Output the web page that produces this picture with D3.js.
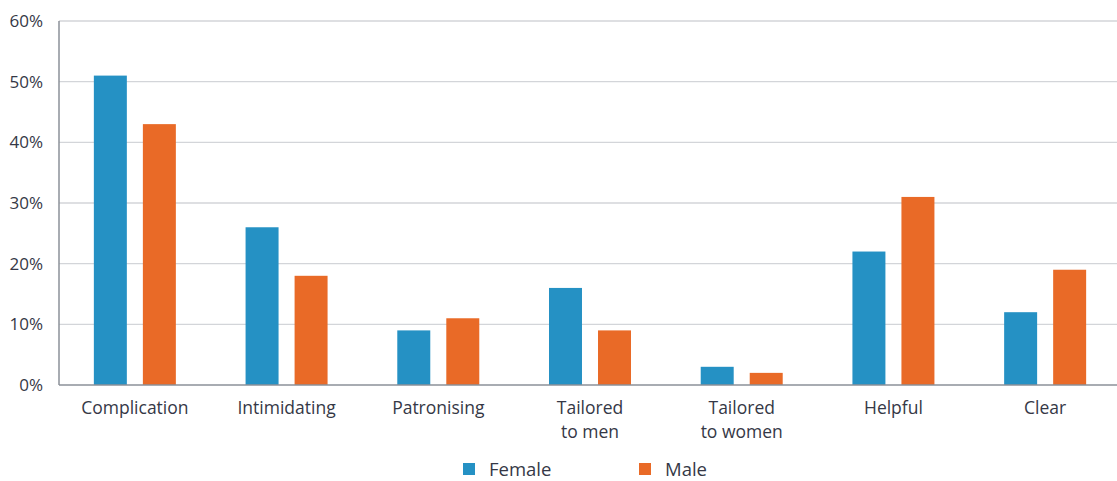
<!DOCTYPE html>
<html><head><meta charset="utf-8">
<script src="https://cdn.jsdelivr.net/npm/d3@7"></script>
<style>body{margin:0;background:#fff;} text{font-family:"Open Sans","Lato",sans-serif;fill:#353846;}</style>
</head><body><svg id="c" width="1117" height="481"></svg>
<script>
const categories = [["Complication"],["Intimidating"],["Patronising"],["Tailored","to men"],["Tailored","to women"],["Helpful"],["Clear"]];
const female = [51, 26, 9, 16, 3, 22, 12];
const male = [43, 18, 11, 9, 2, 31, 19];
const yTicks = [0, 10, 20, 30, 40, 50, 60];
const seriesNames = ["Female", "Male"];
const colors = ["#2591c4", "#e96a27"];

const svg = d3.select("#c");
const x0 = 59, y0 = 385, yTop = 21;
const x = d3.scaleBand().domain(d3.range(categories.length)).range([x0, 1121]);
const y = d3.scaleLinear().domain([0, 60]).range([y0, yTop]);
const inner = d3.scaleBand().domain([0,1]).range([-41, 41]).paddingInner(0.327);

// gridlines
svg.append("g").selectAll("line").data(yTicks.filter(d=>d>0)).join("line")
  .attr("x1", x0).attr("x2", 1117).attr("y1", d=>y(d)).attr("y2", d=>y(d))
  .attr("stroke", "#d3d5d9").attr("stroke-width", 1.3);

// y tick labels
svg.append("g").selectAll("text").data(yTicks).join("text")
  .attr("x", 43).attr("y", d=>y(d)+6).attr("text-anchor","end")
  .style("font-size","17px").text(d=>d+"%");

// bars
const data = [female, male];
data.forEach((vals, s) => {
  svg.append("g").selectAll("rect").data(vals).join("rect")
    .attr("x", (d,i)=>x(i)+x.bandwidth()/2+inner(s))
    .attr("width", inner.bandwidth())
    .attr("y", d=>y(d)).attr("height", d=>y0-y(d))
    .attr("fill", colors[s]);
});

// axes lines
svg.append("line").attr("x1",x0).attr("x2",x0).attr("y1",yTop).attr("y2",y0).attr("stroke","#8b9099").attr("stroke-width",1.5);
svg.append("line").attr("x1",x0).attr("x2",1117).attr("y1",y0).attr("y2",y0).attr("stroke","#8b9099").attr("stroke-width",1.5);

// category labels
const cl = svg.append("g").selectAll("text").data(categories).join("text")
  .attr("text-anchor","middle").style("font-size","17.5px")
  .attr("transform",(d,i)=>`translate(${x(i)+x.bandwidth()/2},414)`);
cl.selectAll("tspan").data(d=>d).join("tspan").attr("x",0).attr("dy",(d,i)=>i?24:0).text(d=>d);

// legend
const lx = [463, 639];
seriesNames.forEach((n,i)=>{
  svg.append("rect").attr("x",lx[i]).attr("y",463).attr("width",12).attr("height",12).attr("fill",colors[i]);
  svg.append("text").attr("x",lx[i]+26).attr("y",476).style("font-size","18.5px").text(n);
});
</script></body></html>
